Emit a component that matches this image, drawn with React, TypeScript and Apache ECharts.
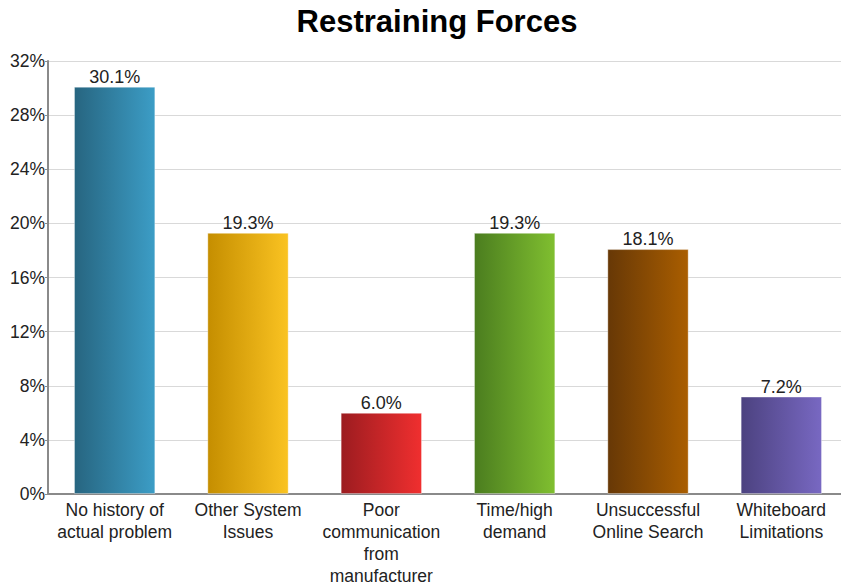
import React, { useEffect, useRef } from "react";
import * as echarts from "echarts";

const categories = [
  "No history of\nactual problem",
  "Other System\nIssues",
  "Poor\ncommunication\nfrom\nmanufacturer",
  "Time/high\ndemand",
  "Unsuccessful\nOnline Search",
  "Whiteboard\nLimitations",
];
const values = [30.1, 19.3, 6.0, 19.3, 18.1, 7.2];
const gradientStops = [
  ["#276580", "#3c9dc6"],
  ["#c58e00", "#fac322"],
  ["#9c1c20", "#f02f2f"],
  ["#4b7d1f", "#80bf30"],
  ["#673806", "#aa5e00"],
  ["#4c4280", "#7868c2"],
];

export default function App() {
  const ref = useRef<HTMLDivElement>(null);
  useEffect(() => {
    const chart = echarts.init(ref.current!, null, { renderer: "svg" });
    chart.setOption({
      animation: false,
      title: {
        text: "Restraining Forces",
        left: 432,
        textAlign: "center",
        top: 1,
        textStyle: { fontFamily: "Liberation Sans", fontSize: 31, fontWeight: "bold", color: "#000" },
      },
      grid: { left: 48, width: 800, top: 61, bottom: 92, containLabel: false, outerBoundsMode: "none" },
      xAxis: {
        type: "category",
        data: categories,
        axisLine: { lineStyle: { color: "#8a8a8a", width: 2 } },
        axisTick: { show: false },
        axisLabel: {
          interval: 0,
          color: "#222",
          fontFamily: "Liberation Sans",
          fontSize: 17.5,
          lineHeight: 22,
          margin: 5,
        },
      },
      yAxis: {
        type: "value",
        min: 0,
        max: 32,
        interval: 4,
        axisLine: { show: true, lineStyle: { color: "#8a8a8a", width: 2 } },
        axisTick: { show: true, length: 3, lineStyle: { color: "#8a8a8a" } },
        splitLine: { lineStyle: { color: "#d9d9d9", width: 1 } },
        axisLabel: {
          formatter: "{value}%",
          color: "#222",
          fontFamily: "Liberation Sans",
          fontSize: 17.5,
          margin: 3,
        },
      },
      series: [
        {
          type: "bar",
          barWidth: "61%",
          data: values.map((v, i) => ({
            value: v,
            itemStyle: {
              color: new echarts.graphic.LinearGradient(0, 0, 1, 0, [
                { offset: 0, color: gradientStops[i][0] },
                { offset: 1, color: gradientStops[i][1] },
              ]),
              borderColor: "rgba(255,255,255,0.35)",
              borderWidth: 1,
            },
          })),
          label: {
            show: true,
            position: "top",
            distance: 1,
            formatter: (p: any) => p.value.toFixed(1) + "%",
            color: "#222",
            fontFamily: "Liberation Sans",
            fontSize: 18,
          },
        },
      ],
    });
    return () => chart.dispose();
  }, []);
  return <div ref={ref} style={{ width: 841, height: 586, position: "absolute", left: 0, top: 0 }} />;
}
